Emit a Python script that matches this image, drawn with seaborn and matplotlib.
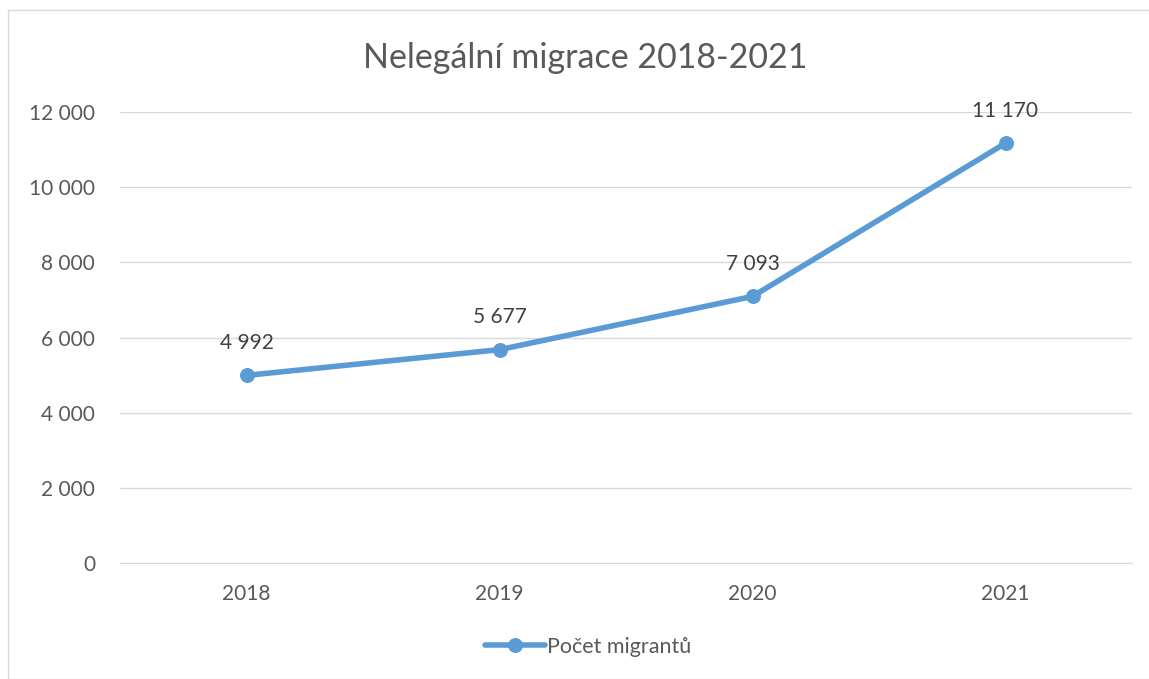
import matplotlib
matplotlib.use('Agg')
import matplotlib.pyplot as plt
import seaborn as sns
import pandas as pd
from matplotlib.patches import Rectangle

# data
years = ['2018', '2019', '2020', '2021']
migrants = [4992, 5677, 7093, 11170]
series_name = 'Počet migrantů'
y_ticks = [0, 2000, 4000, 6000, 8000, 10000, 12000]

df = pd.DataFrame({'year': years, 'count': migrants})

sns.set_style('white')
plt.rcParams['font.family'] = ['Lato', 'DejaVu Sans']

line_color = '#5B9BD5'
text_color = '#595959'

fig = plt.figure(figsize=(11.49, 6.79), dpi=100)
ax = fig.add_axes([120 / 1149, 1 - 563 / 679, (1132 - 120) / 1149, (563 - 112) / 679])

sns.lineplot(data=df, x='year', y='count', ax=ax, color=line_color, linewidth=4,
             marker='o', markersize=10, markeredgecolor=line_color, label=series_name,
             sort=False)

# data labels
for i, v in enumerate(migrants):
    ax.annotate(f'{v:,}'.replace(',', ' '), (i, v), xytext=(0, 16), textcoords='offset points',
                ha='center', va='bottom', fontsize=15, color='#404040')

ax.set_xlim(-0.5, 3.5)
ax.set_ylim(0, 12000)
ax.set_yticks(y_ticks)
ax.set_yticklabels([f'{t:,}'.replace(',', ' ') for t in y_ticks])
ax.yaxis.grid(True, color='#D9D9D9', linewidth=1)
ax.set_axisbelow(True)
for side in ['top', 'right', 'left']:
    ax.spines[side].set_visible(False)
ax.spines['bottom'].set_color('#D9D9D9')
ax.tick_params(axis='both', length=0, labelsize=15, colors=text_color, pad=15)
ax.tick_params(axis='y', pad=18)
ax.set_xlabel('')
ax.set_ylabel('')

fig.suptitle('Nelegální migrace 2018-2021', x=585 / 1149, y=1 - 58 / 679, va='center',
             fontsize=24.5, color=text_color)

leg = ax.legend(loc='center', bbox_to_anchor=((588 - 120) / 1012, (563 - 647) / (563 - 112)),
                frameon=False, fontsize=15.5, handlelength=2.8, handletextpad=0.1)
for t in leg.get_texts():
    t.set_color(text_color)

# chart frame
fig.patches.append(Rectangle((8 / 1149, 0), 1.2, 1 - 10 / 679, transform=fig.transFigure,
                             fill=False, edgecolor='#D9D9D9', linewidth=1))

fig.savefig('out.png', dpi=100)
